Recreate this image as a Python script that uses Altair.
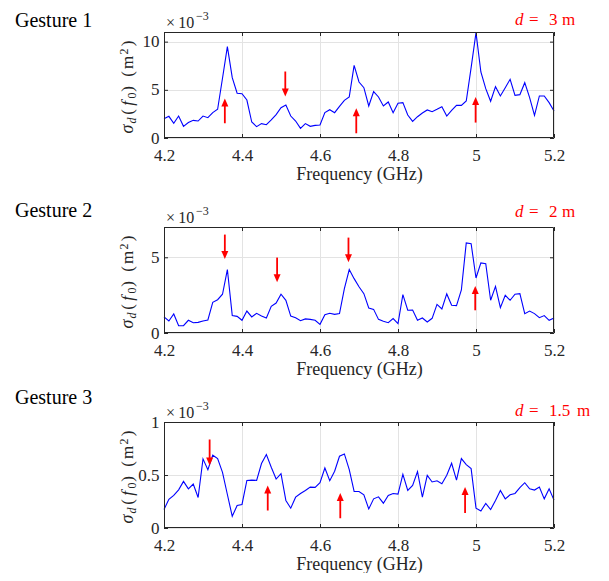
import altair as alt
import pandas as pd

FONT = "Liberation Serif"
DARK = "#262626"
RED = "#ff0000"
BLUE = "#0000ff"

# frequency sampling grid (GHz), 81 samples from 4.2 to 5.2
freq = [round(4.2 + 0.0125 * i, 4) for i in range(81)]

# sigma_d(f0) in units of 1e-3 m^2
sigma_g1 = [2.0, 2.25, 1.52, 2.28, 1.21, 1.6, 1.83, 1.76, 2.28, 2.11,
            2.63, 2.98, 6.2, 9.48, 6.26, 4.64, 4.6, 3.94, 1.66, 1.18,
            1.49, 1.38, 1.87, 2.42, 3.15, 3.43, 2.28, 1.76, 1.0, 1.49,
            1.21, 1.31, 1.35, 2.63, 2.94, 2.63, 3.29, 3.91, 4.26, 7.54,
            5.81, 5.22, 3.32, 4.81, 4.26, 3.32, 3.74, 2.63, 3.6, 3.67,
            2.39, 1.73, 2.21, 2.6, 2.91, 2.73, 2.98, 3.25, 2.28, 2.87,
            3.39, 3.39, 3.84, 7.3, 10.93, 6.85, 5.12, 3.81, 5.33, 4.36,
            5.22, 6.09, 4.43, 4.5, 5.74, 4.19, 2.35, 4.36, 4.36, 3.67,
            2.8]
sigma_g2 = [1.06, 0.79, 1.26, 0.48, 0.48, 0.84, 0.68, 0.7, 0.79, 0.86,
            2.03, 2.2, 2.56, 4.19, 1.15, 1.1, 0.84, 1.45, 1.06, 1.3,
            1.12, 0.99, 1.76, 1.98, 2.56, 2.16, 1.12, 1.01, 0.81, 0.93,
            0.9, 0.84, 0.57, 1.21, 1.3, 1.23, 1.28, 2.93, 4.19, 3.59,
            3.05, 2.6, 1.65, 1.56, 0.9, 0.77, 0.68, 0.95, 0.62, 2.53,
            1.5, 1.52, 0.84, 0.99, 0.73, 0.97, 1.89, 1.59, 2.58, 1.83,
            1.81, 2.84, 5.95, 5.9, 3.63, 4.63, 4.58, 2.16, 3.08, 1.67,
            2.49, 2.16, 2.56, 2.6, 1.28, 1.45, 1.28, 1.01, 1.15, 0.84,
            0.99]
sigma_g3 = [0.174, 0.27, 0.307, 0.36, 0.44, 0.37, 0.415, 0.288, 0.652, 0.55,
            0.687, 0.655, 0.525, 0.316, 0.11, 0.212, 0.222, 0.449, 0.452, 0.449,
            0.608, 0.693, 0.573, 0.462, 0.513, 0.26, 0.187, 0.291, 0.326, 0.354,
            0.386, 0.383, 0.427, 0.566, 0.446, 0.535, 0.677, 0.699, 0.551, 0.345,
            0.345, 0.313, 0.18, 0.275, 0.294, 0.234, 0.307, 0.326, 0.32, 0.506,
            0.354, 0.402, 0.532, 0.291, 0.497, 0.434, 0.446, 0.418, 0.497, 0.611,
            0.452, 0.655, 0.598, 0.56, 0.187, 0.161, 0.231, 0.174, 0.26, 0.354,
            0.275, 0.313, 0.326, 0.38, 0.427, 0.37, 0.358, 0.386, 0.275, 0.37,
            0.263]

x_ticks = [4.2, 4.4, 4.6, 4.8, 5.0, 5.2]
y_ticks = [[0, 5, 10], [0, 5], [0, 0.5, 1]]
y_max = [11, 7, 1]

# arrow annotations: frequency, tail value, tip value, direction
arrow_freq = [[4.356, 4.511, 4.693, 4.999],
              [4.356, 4.49, 4.673, 4.998],
              [4.317, 4.466, 4.652, 4.972]]
arrow_tail = [[1.53, 6.9, 0.49, 1.6],
              [6.5, 4.98, 6.3, 1.5],
              [0.835, 0.165, 0.092, 0.142]]
arrow_tip = [[4.09, 4.3, 3.08, 4.26],
             [4.89, 3.35, 4.67, 3.1],
             [0.59, 0.40, 0.33, 0.386]]
arrow_dir = [["up", "down", "up", "up"],
             ["down", "down", "down", "up"],
             ["down", "up", "up", "up"]]

gesture_titles = ["Gesture 1", "Gesture 2", "Gesture 3"]
distance_values = ["3", "2", "1.5"]
gesture_baseline = [-5, -10, -18]
distance_baseline = [-7.5, -10.5, -6]

W, H = 390, 106
PATH_UP = "M0,0L-0.875,2L0.875,2Z"
PATH_DOWN = "M0,0L-0.875,-2L0.875,-2Z"


def txt(text, x, y, size=17, color=DARK, style="normal", angle=0,
        align="left", baseline="alphabetic"):
    return alt.Chart(alt.Data(values=[{}])).mark_text(
        text=text, font=FONT, fontSize=size, color=color, fontStyle=style,
        angle=angle, align=align, baseline=baseline
    ).encode(x=alt.value(x), y=alt.value(y))


def panel(i):
    xs = alt.Scale(domain=[4.2, 5.2], nice=False, zero=False)
    ys = alt.Scale(domain=[0, y_max[i]], nice=False)
    ax_x = alt.Axis(values=x_ticks, format=".1~f", title="Frequency (GHz)",
                    grid=True, ticks=False, tickSize=0, domain=False,
                    labelFlush=False, labelPadding=9, titlePadding=2)
    ax_y = alt.Axis(values=y_ticks[i], format=".1~f", title=None,
                    grid=True, ticks=False, tickSize=0, domain=False,
                    labelFlush=False, labelPadding=5)
    sig = [sigma_g1, sigma_g2, sigma_g3][i]
    df = pd.DataFrame({"freq": freq, "sigma": sig})

    line = alt.Chart(df).mark_line(color=BLUE, strokeWidth=1.1).encode(
        x=alt.X("freq:Q", scale=xs, axis=ax_x),
        y=alt.Y("sigma:Q", scale=ys, axis=ax_y),
    )

    frame = alt.Chart(alt.Data(values=[{}])).mark_rect(
        fillOpacity=0, stroke=DARK, strokeWidth=1
    ).encode(x=alt.value(0.5), x2=alt.value(W - 0.5),
             y=alt.value(0.5), y2=alt.value(H - 0.5))

    tx = pd.DataFrame({"v": x_ticks})
    ty = pd.DataFrame({"v": y_ticks[i]})
    tick_b = alt.Chart(tx).mark_rule(color=DARK, strokeWidth=1, xOffset=0.5).encode(
        x=alt.X("v:Q", scale=xs, axis=ax_x), y=alt.value(H), y2=alt.value(H - 4))
    tick_t = alt.Chart(tx).mark_rule(color=DARK, strokeWidth=1, xOffset=0.5).encode(
        x=alt.X("v:Q", scale=xs, axis=ax_x), y=alt.value(0), y2=alt.value(4))
    tick_l = alt.Chart(ty).mark_rule(color=DARK, strokeWidth=1, yOffset=0.5).encode(
        y=alt.Y("v:Q", scale=ys, axis=ax_y), x=alt.value(0), x2=alt.value(4))
    tick_r = alt.Chart(ty).mark_rule(color=DARK, strokeWidth=1, yOffset=0.5).encode(
        y=alt.Y("v:Q", scale=ys, axis=ax_y), x=alt.value(W), x2=alt.value(W - 4))

    adf = pd.DataFrame({"freq": arrow_freq[i], "tail": arrow_tail[i],
                        "tip": arrow_tip[i], "dir": arrow_dir[i]})
    base = alt.Chart(adf)
    up = base.transform_filter("datum.dir == 'up'")
    down = base.transform_filter("datum.dir == 'down'")
    shaft_up = up.mark_rule(color=RED, strokeWidth=1.8, y2Offset=5).encode(
        x=alt.X("freq:Q", scale=xs, axis=ax_x),
        y=alt.Y("tail:Q", scale=ys, axis=ax_y), y2="tip:Q")
    shaft_dn = down.mark_rule(color=RED, strokeWidth=1.8, y2Offset=-5).encode(
        x=alt.X("freq:Q", scale=xs, axis=ax_x),
        y=alt.Y("tail:Q", scale=ys, axis=ax_y), y2="tip:Q")
    head_up = up.mark_point(shape=PATH_UP, size=64, filled=True, color=RED,
                            opacity=1, strokeWidth=0).encode(
        x=alt.X("freq:Q", scale=xs, axis=ax_x),
        y=alt.Y("tip:Q", scale=ys, axis=ax_y))
    head_dn = down.mark_point(shape=PATH_DOWN, size=64, filled=True, color=RED,
                              opacity=1, strokeWidth=0).encode(
        x=alt.X("freq:Q", scale=xs, axis=ax_x),
        y=alt.Y("tip:Q", scale=ys, axis=ax_y))

    layers = [line, frame, tick_b, tick_t, tick_l, tick_r,
              shaft_up, shaft_dn, head_up, head_dn]

    # y axis title: sigma_d (f_0) (m^2), rotated, built from pieces
    cx = -36
    layers += [
        txt("σ", cx, 97, 18, style="italic", angle=270, align="center", baseline="middle"),
        txt("d", cx + 4, 88.5, 12, style="italic", angle=270, align="center", baseline="middle"),
        txt("(", cx, 80, 17, angle=270, align="center", baseline="middle"),
        txt("f", cx, 71.5, 17, style="italic", angle=270, align="center", baseline="middle"),
        txt("0", cx + 4, 63.5, 12, angle=270, align="center", baseline="middle"),
        txt(")", cx, 57, 17, angle=270, align="center", baseline="middle"),
        txt("(", cx, 42, 17, angle=270, align="center", baseline="middle"),
        txt("m", cx, 30.5, 17, angle=270, align="center", baseline="middle"),
        txt("2", cx - 4, 19.5, 12, angle=270, align="center", baseline="middle"),
        txt(")", cx, 11.5, 17, angle=270, align="center", baseline="middle"),
    ]
    # exponent label
    layers += [txt("×\u200910", 2, -4, 16), txt("−3", 32, -12, 12)]
    # gesture title and distance
    layers += [txt(gesture_titles[i], -149, gesture_baseline[i], 20, color="#000000")]
    db = distance_baseline[i]
    num_x = 385
    m_x = 413 if distance_values[i] == "1.5" else 398
    layers += [txt("d", 351, db, 17, color=RED, style="italic"),
               txt("=", 365, db, 17, color=RED),
               txt(distance_values[i], num_x, db, 17, color=RED),
               txt("m", m_x, db, 17, color=RED)]
    if i == 0:
        anchor = alt.Chart(alt.Data(values=[{}])).mark_rule(
            color="#ffffff", strokeWidth=0.01).encode(
            x=alt.value(-157), x2=alt.value(-156), y=alt.value(-26))
        layers.append(anchor)

    return alt.layer(*layers).properties(width=W, height=H)


chart = alt.vconcat(panel(0), panel(1), panel(2), spacing=89, bounds="flush").properties(
    padding={"left": -2, "top": -3, "right": 0, "bottom": 0}
).configure_view(
    strokeWidth=0
).configure_axis(
    labelFont=FONT, labelFontSize=17, labelColor=DARK,
    titleFont=FONT, titleFontSize=18, titleColor=DARK, titleFontWeight="normal",
    gridColor="#e3e3e3", gridWidth=1
)

chart.save("out.html", embed_options={"renderer": "svg", "actions": False})
